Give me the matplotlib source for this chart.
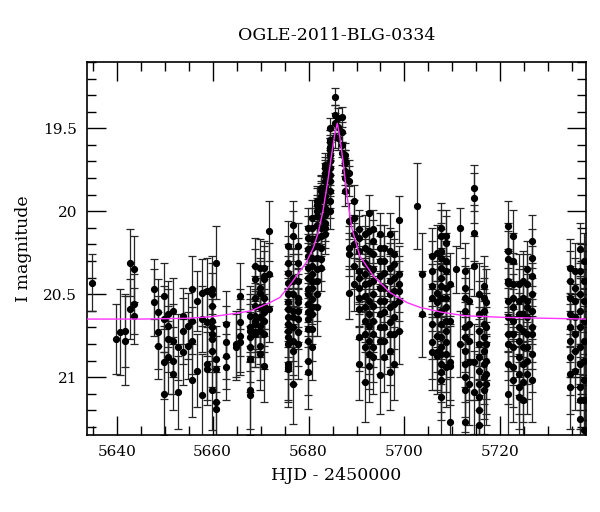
import matplotlib
matplotlib.use('Agg')
import matplotlib.pyplot as plt
from matplotlib.ticker import MultipleLocator

# OGLE-2011-BLG-0334 light curve
night_hjd = [5634.8, 5639.8, 5640.75, 5641.7, 5642.7, 5643.7, 5647.8, 5648.7, 5649.8, 5650.6,
             5651.7, 5652.8, 5653.8, 5654.8, 5655.7, 5656.7, 5657.7, 5658.8, 5659.8, 5660.7,
             5662.7, 5664.8, 5665.8, 5667.8, 5668.8, 5669.9, 5670.7, 5671.7, 5675.8, 5676.8,
             5677.7, 5679.8, 5680.8, 5681.7, 5682.6, 5683.4, 5684.5, 5685.6, 5686.2, 5686.9,
             5687.5, 5688.4, 5689.4, 5690.6, 5691.8, 5692.7, 5693.5, 5694.8, 5695.7, 5696.9,
             5697.8, 5698.9, 5702.6, 5703.7, 5705.7, 5706.7, 5707.6, 5708.6, 5709.5, 5710.7,
             5711.6, 5712.6, 5713.5, 5714.6, 5715.6, 5716.5, 5717.0, 5721.5, 5722.7, 5723.8,
             5724.7, 5725.5, 5726.5, 5734.5, 5735.6, 5736.6, 5737.5]

night_mag = [
    [20.43], [20.77], [20.73], [20.72, 20.78], [20.31, 20.59], [20.35, 20.56, 20.63],
    [20.47, 20.55], [20.61, 20.73, 20.81], [20.51, 20.65, 20.91, 21.10],
    [20.62, 20.69, 20.77, 20.88], [20.60, 20.78, 20.90, 20.98], [20.82, 21.09],
    [20.63, 20.72, 20.85], [20.69, 20.81], [20.47, 20.66, 20.78, 21.02], [20.54, 20.96],
    [20.49, 20.65, 21.11], [20.48, 20.67, 20.92, 20.95],
    [20.47, 20.50, 20.57, 20.66, 20.70, 20.74, 20.77, 20.84, 21.08],
    [20.31, 20.89, 20.95, 21.15, 21.19], [20.68, 20.79, 20.87, 20.94], [20.80, 20.82],
    [20.51, 20.67, 20.75, 20.79],
    [20.63, 20.70, 20.72, 20.76, 20.82, 20.89, 21.08, 21.11],
    [20.33, 20.41, 20.52, 20.57, 20.63, 20.66, 20.68, 20.73, 20.74],
    [20.34, 20.46, 20.49, 20.58, 20.64, 20.69, 20.72, 20.81, 20.86],
    [20.34, 20.39, 20.41, 20.52, 20.57, 20.61, 20.66, 20.74, 20.93],
    [20.12, 20.38, 20.59],
    [20.21, 20.31, 20.37, 20.43, 20.50, 20.55, 20.59, 20.64, 20.68, 20.72, 20.76, 20.80, 20.92, 20.94, 20.95],
    [20.08, 20.15, 20.40, 20.42, 20.50, 20.60, 20.64, 20.70, 20.78, 20.84, 21.04],
    [20.21, 20.31, 20.42, 20.52, 20.55, 20.60, 20.65, 20.73, 20.80],
    [20.10, 20.16, 20.23, 20.27, 20.34, 20.40, 20.47, 20.50, 20.56, 20.61, 20.65, 20.71, 20.78, 20.90, 20.97],
    [20.04, 20.10, 20.17, 20.22, 20.28, 20.33, 20.38, 20.42, 20.46, 20.53, 20.58, 20.62, 20.71, 20.82],
    [19.94, 19.96, 20.00, 20.03, 20.08, 20.16, 20.21, 20.28, 20.35, 20.42, 20.50, 20.58],
    [19.86, 19.88, 19.91, 19.93, 19.98, 20.04, 20.10, 20.15, 20.22, 20.29, 20.34],
    [19.72, 19.74, 19.77, 19.79, 19.82, 19.86, 19.91, 19.94, 19.98, 20.02, 20.07, 20.10, 20.14],
    [19.50, 19.57, 19.58, 19.61, 19.63, 19.66, 19.70, 19.74, 19.78, 19.82, 19.88, 19.94, 20.00],
    [19.31, 19.42, 19.47, 19.55], [19.44, 19.49, 19.56], [19.43, 19.52, 19.60, 19.65],
    [19.66, 19.70, 19.71, 19.76, 19.80, 19.88],
    [19.77, 19.82, 20.06, 20.22, 20.26, 20.49],
    [19.94, 20.04, 20.14, 20.20, 20.33, 20.44],
    [20.11, 20.16, 20.24, 20.36, 20.40, 20.46, 20.52, 20.59, 20.76, 20.92],
    [20.14, 20.22, 20.31, 20.38, 20.44, 20.51, 20.58, 20.66, 20.74, 20.82, 21.03],
    [20.01, 20.12, 20.24, 20.34, 20.43, 20.54, 20.62, 20.69, 20.78, 20.86, 20.93],
    [20.11, 20.18, 20.26, 20.35, 20.42, 20.50, 20.57, 20.66, 20.74, 20.82, 20.88],
    [20.14, 20.22, 20.30, 20.39, 20.46, 20.54, 20.62, 20.70, 20.78, 20.99],
    [20.22, 20.30, 20.37, 20.46, 20.54, 20.61, 20.70, 20.78, 20.88],
    [20.14, 20.24, 20.34, 20.42, 20.50, 20.58, 20.67, 20.74, 20.84, 20.97],
    [20.26, 20.32, 20.40, 20.48, 20.56, 20.64, 20.74, 20.92],
    [20.05, 20.38, 20.44, 20.48, 20.54, 20.72],
    [19.97], [20.38, 20.62],
    [20.27, 20.36, 20.45, 20.52, 20.68, 20.79, 20.85],
    [20.25, 20.49, 20.55, 20.62, 20.75, 20.85, 20.87],
    [20.10, 20.15, 20.24, 20.28, 20.34, 20.40, 20.45, 20.52, 20.60, 20.68, 20.76, 20.82, 20.86, 20.92, 20.97, 21.02, 21.12],
    [20.15, 20.19, 20.30, 20.36, 20.46, 20.52, 20.58, 20.66, 20.72, 20.79, 20.86, 20.94],
    [20.44, 20.66, 20.91, 20.93, 21.27], [20.35], [20.10, 20.80],
    [20.36, 20.46, 20.52, 20.60, 20.70, 20.76, 20.84, 20.92, 21.00, 21.08, 21.27],
    [20.54, 20.68, 20.78, 20.91, 21.04],
    [19.86, 19.92, 20.13, 20.33, 20.91, 21.09],
    [20.50, 20.62, 20.72, 20.80, 20.88, 20.96, 21.04, 21.12, 21.20, 21.29],
    [20.45, 20.52, 20.60, 20.68, 20.76, 20.84, 20.92, 21.00, 21.08],
    [20.55, 20.70, 20.80, 20.90, 20.98, 21.04],
    [20.09, 20.24, 20.29, 20.42, 20.43, 20.54, 20.64, 20.74, 20.80, 20.92, 21.10],
    [20.15, 20.30, 20.44, 20.52, 20.58, 20.66, 20.74, 20.82, 20.94, 21.02],
    [20.44, 20.54, 20.62, 20.70, 20.78, 20.88, 20.98, 21.06, 21.12],
    [20.42, 20.52, 20.62, 20.72, 20.82, 20.92, 21.03, 21.14],
    [20.35, 20.44, 20.54, 20.58, 20.64, 20.74, 20.82, 20.90, 20.98],
    [20.18, 20.28, 20.39, 20.50, 20.60, 20.70, 20.74, 20.86, 21.02],
    [20.34, 20.42, 20.52, 20.62, 20.70, 20.78, 20.88, 20.98, 21.06],
    [20.36, 20.46, 20.54, 20.64, 20.74, 20.84, 20.96],
    [20.23, 20.36, 20.50, 20.60, 20.70, 20.82, 20.92, 21.06, 21.14, 21.25],
    [20.30, 20.42, 20.54, 20.66, 20.78, 20.90, 21.02, 21.14, 21.32],
]

night_err = [
    [0.17], [0.21], [0.26], [0.22, 0.27], [0.2, 0.18], [0.2, 0.18, 0.17],
    [0.18, 0.2], [0.2, 0.22, 0.2], [0.2, 0.2, 0.22, 0.25],
    [0.2, 0.22, 0.2, 0.22], [0.2, 0.22, 0.2, 0.22], [0.2, 0.22],
    [0.17, 0.2, 0.2], [0.2, 0.2], [0.2, 0.2, 0.2, 0.22], [0.18, 0.22],
    [0.2, 0.2, 0.25], [0.2, 0.2, 0.22, 0.22],
    [0.2, 0.19, 0.2, 0.18, 0.2, 0.21, 0.2, 0.22, 0.24],
    [0.22, 0.2, 0.2, 0.22, 0.22], [0.2, 0.22, 0.2, 0.2], [0.2, 0.2],
    [0.2, 0.2, 0.22, 0.2],
    [0.18, 0.2, 0.19, 0.2, 0.21, 0.2, 0.23, 0.24],
    [0.17, 0.18, 0.19, 0.18, 0.2, 0.19, 0.2, 0.21, 0.2],
    [0.17, 0.18, 0.19, 0.18, 0.2, 0.19, 0.2, 0.21, 0.22],
    [0.16, 0.18, 0.17, 0.19, 0.18, 0.2, 0.19, 0.21, 0.22],
    [0.18, 0.19, 0.2],
    [0.15, 0.16, 0.17, 0.16, 0.18, 0.17, 0.19, 0.18, 0.2, 0.19, 0.2, 0.21, 0.22, 0.21, 0.23],
    [0.14, 0.15, 0.17, 0.16, 0.18, 0.19, 0.18, 0.2, 0.21, 0.2, 0.24],
    [0.14, 0.15, 0.16, 0.18, 0.17, 0.19, 0.18, 0.2, 0.21],
    [0.12, 0.13, 0.14, 0.13, 0.15, 0.16, 0.15, 0.17, 0.16, 0.18, 0.17, 0.19, 0.2, 0.21, 0.22],
    [0.11, 0.12, 0.13, 0.12, 0.14, 0.13, 0.15, 0.14, 0.16, 0.15, 0.17, 0.18, 0.19, 0.2],
    [0.09, 0.1, 0.1, 0.11, 0.11, 0.12, 0.13, 0.13, 0.14, 0.15, 0.16, 0.17],
    [0.08, 0.09, 0.09, 0.1, 0.1, 0.11, 0.11, 0.12, 0.13, 0.13, 0.14],
    [0.07, 0.07, 0.08, 0.08, 0.08, 0.09, 0.09, 0.1, 0.1, 0.11, 0.11, 0.12, 0.12],
    [0.06, 0.06, 0.07, 0.07, 0.07, 0.08, 0.08, 0.08, 0.09, 0.09, 0.1, 0.1, 0.11],
    [0.05, 0.06, 0.06, 0.07], [0.06, 0.06, 0.07], [0.06, 0.06, 0.07, 0.07],
    [0.07, 0.07, 0.08, 0.08, 0.09, 0.09],
    [0.08, 0.09, 0.11, 0.13, 0.13, 0.16],
    [0.1, 0.11, 0.12, 0.13, 0.14, 0.16],
    [0.12, 0.13, 0.13, 0.15, 0.15, 0.16, 0.17, 0.18, 0.2, 0.22],
    [0.12, 0.13, 0.14, 0.15, 0.16, 0.17, 0.18, 0.19, 0.2, 0.21, 0.24],
    [0.11, 0.12, 0.14, 0.15, 0.16, 0.17, 0.18, 0.19, 0.2, 0.21, 0.22],
    [0.12, 0.13, 0.14, 0.15, 0.16, 0.17, 0.18, 0.19, 0.2, 0.21, 0.22],
    [0.13, 0.14, 0.15, 0.16, 0.17, 0.17, 0.18, 0.19, 0.2, 0.23],
    [0.14, 0.15, 0.16, 0.16, 0.17, 0.18, 0.19, 0.2, 0.21],
    [0.13, 0.14, 0.15, 0.16, 0.17, 0.18, 0.19, 0.2, 0.21, 0.23],
    [0.14, 0.15, 0.16, 0.17, 0.18, 0.19, 0.2, 0.22],
    [0.14, 0.17, 0.17, 0.18, 0.18, 0.2],
    [0.26], [0.25, 0.26],
    [0.17, 0.18, 0.19, 0.2, 0.21, 0.22, 0.23],
    [0.17, 0.19, 0.2, 0.2, 0.22, 0.23, 0.23],
    [0.15, 0.16, 0.17, 0.17, 0.18, 0.18, 0.19, 0.2, 0.2, 0.21, 0.22, 0.22, 0.23, 0.23, 0.24, 0.24, 0.26],
    [0.16, 0.16, 0.17, 0.18, 0.19, 0.2, 0.2, 0.21, 0.22, 0.22, 0.23, 0.24],
    [0.19, 0.21, 0.23, 0.24, 0.27], [0.14], [0.12, 0.2],
    [0.17, 0.18, 0.19, 0.2, 0.21, 0.21, 0.22, 0.23, 0.24, 0.25, 0.27],
    [0.2, 0.21, 0.22, 0.23, 0.25],
    [0.14, 0.15, 0.17, 0.18, 0.23, 0.25],
    [0.19, 0.2, 0.21, 0.22, 0.23, 0.24, 0.25, 0.26, 0.27, 0.28],
    [0.18, 0.19, 0.2, 0.21, 0.22, 0.23, 0.24, 0.25, 0.26],
    [0.2, 0.21, 0.22, 0.23, 0.24, 0.25],
    [0.15, 0.17, 0.17, 0.19, 0.19, 0.2, 0.21, 0.22, 0.22, 0.24, 0.26],
    [0.16, 0.17, 0.19, 0.2, 0.2, 0.21, 0.22, 0.23, 0.24, 0.25],
    [0.18, 0.19, 0.2, 0.21, 0.22, 0.23, 0.24, 0.25, 0.26],
    [0.18, 0.19, 0.2, 0.21, 0.22, 0.23, 0.24, 0.26],
    [0.17, 0.18, 0.19, 0.2, 0.2, 0.21, 0.22, 0.23, 0.24],
    [0.16, 0.17, 0.18, 0.19, 0.2, 0.21, 0.21, 0.23, 0.25],
    [0.17, 0.18, 0.19, 0.2, 0.21, 0.22, 0.23, 0.24, 0.25],
    [0.17, 0.18, 0.19, 0.2, 0.21, 0.22, 0.24],
    [0.16, 0.17, 0.19, 0.2, 0.21, 0.22, 0.23, 0.25, 0.26, 0.27],
    [0.17, 0.18, 0.19, 0.2, 0.21, 0.22, 0.24, 0.25, 0.27],
]

# model curve (magenta)
model_hjd = [5633.8, 5645.0, 5655.0, 5660.0, 5665.0, 5668.0, 5672.0, 5674.0, 5676.0, 5678.0,
             5679.5, 5681.0, 5682.0, 5683.0, 5684.0, 5684.8, 5685.5, 5686.0, 5686.5, 5687.2,
             5688.0, 5689.0, 5690.7, 5693.5, 5697.0, 5700.5, 5703.3, 5708.0, 5712.6, 5721.0,
             5738.0]
model_mag = [20.65, 20.65, 20.645, 20.635, 20.615, 20.60, 20.55, 20.52, 20.45, 20.37,
             20.31, 20.22, 20.13, 20.00, 19.82, 19.66, 19.53, 19.47, 19.55, 19.70,
             19.90, 20.10, 20.27, 20.39, 20.49, 20.55, 20.58, 20.61, 20.63, 20.64,
             20.65]

hjd, mag, err = [], [], []
for t, ms, es in zip(night_hjd, night_mag, night_err):
    for m, e in zip(ms, es):
        hjd.append(t)
        mag.append(m)
        err.append(e)

plt.rcParams['font.family'] = ['DejaVu Serif']

fig = plt.figure(figsize=(6, 5.12), dpi=100)
ax = fig.add_axes([0.145, 0.15, 0.832, 0.729])

ax.errorbar(hjd, mag, yerr=err, fmt='o', color='black', ms=4.2, ecolor='0.15',
            elinewidth=0.9, capsize=3, capthick=0.9, zorder=2)
ax.plot(model_hjd, model_mag, color='#ff33ff', lw=1.0, zorder=3)

ax.set_xlim(5633.8, 5737.9)
ax.set_ylim(21.35, 19.1)

ax.xaxis.set_major_locator(MultipleLocator(20))
ax.xaxis.set_minor_locator(MultipleLocator(5))
ax.yaxis.set_major_locator(MultipleLocator(0.5))
ax.yaxis.set_minor_locator(MultipleLocator(0.1))
ax.set_yticks([19.5, 20, 20.5, 21])
ax.set_yticklabels(['19.5', '20', '20.5', '21'])
ax.tick_params(which='both', direction='in', top=True, right=True, width=1.0)
ax.tick_params(which='major', length=13.5, labelsize=11, pad=7)
ax.tick_params(which='minor', length=6.5)
for s in ax.spines.values():
    s.set_linewidth(1.2)

ax.set_xlabel('HJD - 2450000', fontsize=12.5, labelpad=6)
ax.set_ylabel('I magnitude', fontsize=12.5, labelpad=8)
ax.set_title('OGLE-2011-BLG-0334', fontsize=12.5, pad=16)

plt.savefig('out.png', dpi=100)
